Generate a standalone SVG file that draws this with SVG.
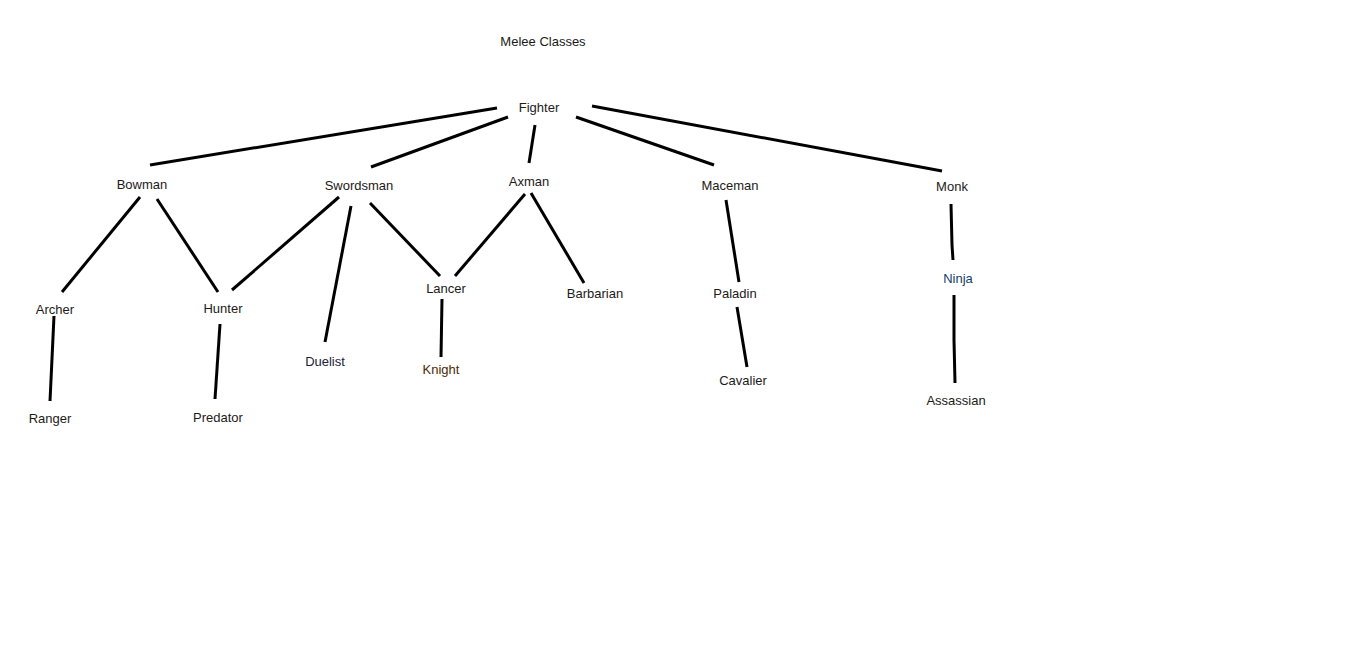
<svg xmlns="http://www.w3.org/2000/svg" width="1348" height="671" viewBox="0 0 1348 671">
<style>
text{font-family:"Liberation Sans",Arial,sans-serif;font-size:13px;fill:#1c1a18;text-anchor:middle}
.c line,.c polyline{stroke:#000;stroke-width:3;fill:none;stroke-linecap:butt}
</style>
<rect width="1348" height="671" fill="#fff"/>
<g class="c" id="connectors">
<line x1="497" y1="108" x2="150" y2="165"/>
<line x1="508" y1="117" x2="371" y2="167"/>
<line x1="535" y1="125" x2="529" y2="163"/>
<line x1="576" y1="117" x2="714" y2="165"/>
<line x1="592" y1="106" x2="942" y2="171"/>
<line x1="140" y1="197" x2="62" y2="292"/>
<line x1="157" y1="199" x2="218" y2="292"/>
<line x1="339" y1="197" x2="232" y2="290"/>
<line x1="351" y1="206" x2="325" y2="342"/>
<line x1="370" y1="203" x2="440" y2="276"/>
<line x1="525" y1="194" x2="455" y2="276"/>
<line x1="531" y1="193" x2="584" y2="283"/>
<line x1="726" y1="200" x2="739" y2="282"/>
<line x1="737" y1="307" x2="747" y2="367"/>
<polyline points="951,204 952,245 953,260"/>
<polyline points="954,295 954,340 955,383"/>
<line x1="54" y1="316" x2="50" y2="401"/>
<line x1="220" y1="324" x2="215" y2="399"/>
<line x1="442" y1="299" x2="441" y2="357"/>
</g>
<g id="title"><text x="543" y="46">Melee Classes</text></g>
<g id="fighter"><text x="539" y="112">Fighter</text></g>
<g id="bowman"><text x="142" y="189">Bowman</text></g>
<g id="swordsman"><text x="359" y="190">Swordsman</text></g>
<g id="axman"><text x="529" y="186">Axman</text></g>
<g id="maceman"><text x="730" y="190">Maceman</text></g>
<g id="monk"><text x="952" y="191">Monk</text></g>
<g id="archer"><text x="55" y="314">Archer</text></g>
<g id="hunter"><text x="223" y="313">Hunter</text></g>
<g id="lancer"><text x="446" y="293">Lancer</text></g>
<g id="barbarian"><text x="595" y="298">Barbarian</text></g>
<g id="paladin"><text x="735" y="298">Paladin</text></g>
<g id="ninja"><text x="958" y="283" style="fill:#12406e">Ninja</text></g>
<g id="duelist"><text x="325" y="366" style="fill:#1a2238">Duelist</text></g>
<g id="knight"><text x="441" y="374" style="fill:#4e2a02">Knight</text></g>
<g id="cavalier"><text x="743" y="385">Cavalier</text></g>
<g id="assassian"><text x="956" y="405">Assassian</text></g>
<g id="ranger"><text x="50" y="423">Ranger</text></g>
<g id="predator"><text x="218" y="422">Predator</text></g>
</svg>
